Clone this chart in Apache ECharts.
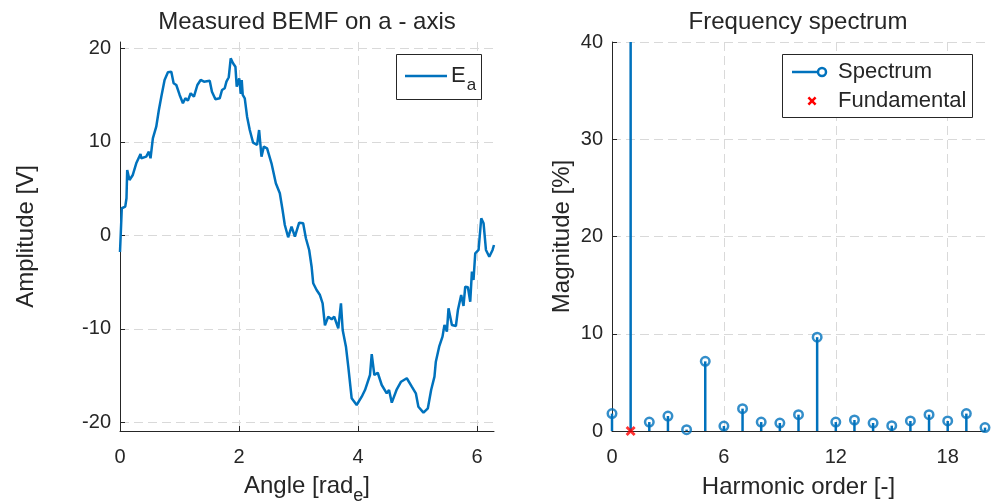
<!DOCTYPE html>
<html lang="en">
<head>
  <meta charset="UTF-8">
  <title>BEMF and spectrum</title>
  <script src="https://cdn.jsdelivr.net/npm/echarts@6.0.0/dist/echarts.min.js"></script>
  <style>
    html, body { margin: 0; background: #fff; }
    #chart { width: 991px; height: 504px; }
  </style>
</head>
<body>
  <div id="chart"></div>
  <script>
    // measured BEMF, a-axis
    const angle = [0.000, 0.020, 0.030, 0.088, 0.109, 0.121, 0.160, 0.215, 0.273, 0.345, 0.357, 0.441, 0.485, 0.513,
      0.552, 0.609, 0.653, 0.694, 0.749, 0.805, 0.862, 0.901, 0.946, 1.002, 1.057, 1.098, 1.141, 1.187, 1.242,
      1.300, 1.355, 1.411, 1.507, 1.545, 1.603, 1.675, 1.714, 1.759, 1.788, 1.827, 1.860, 1.899, 1.939, 1.961,
      2.003, 2.029, 2.045, 2.062, 2.096, 2.135, 2.180, 2.236, 2.303, 2.337, 2.377, 2.416, 2.471, 2.545, 2.618,
      2.685, 2.731, 2.769, 2.825, 2.882, 2.938, 3.010, 3.077, 3.123, 3.178, 3.219, 3.246, 3.303, 3.359, 3.404,
      3.443, 3.498, 3.556, 3.599, 3.667, 3.712, 3.741, 3.796, 3.835, 3.892, 3.976, 4.061, 4.116, 4.200, 4.229,
      4.273, 4.330, 4.397, 4.481, 4.520, 4.566, 4.650, 4.722, 4.818, 4.902, 4.970, 5.013, 5.098, 5.172, 5.227,
      5.283, 5.306, 5.362, 5.418, 5.451, 5.492, 5.519, 5.576, 5.643, 5.677, 5.732, 5.771, 5.800, 5.845, 5.884,
      5.912, 5.939, 5.968, 6.024, 6.069, 6.108, 6.148, 6.204, 6.259, 6.283]
    const bemf = [-1.79, 1.28, 2.89, 3.06, 3.96, 6.98, 5.91, 6.45, 7.70, 8.70, 8.24, 8.41, 8.94, 8.24,
      10.37, 11.61, 13.40, 14.82, 16.61, 17.43, 17.50, 16.26, 16.07, 15.01, 14.12, 14.65, 14.40, 15.19, 14.82,
      16.07, 16.61, 16.43, 16.53, 15.36, 14.55, 14.65, 15.54, 15.72, 16.43, 16.90, 18.93, 18.40, 18.03, 15.89,
      16.77, 15.11, 16.61, 15.01, 14.65, 12.68, 11.26, 9.90, 9.66, 11.26, 8.41, 9.48, 9.30, 7.70, 5.56,
      4.49, 2.71, 1.10, -0.21, 0.92, -0.15, 1.35, 1.28, -0.32, -1.57, -3.36, -5.13, -5.85, -6.39, -7.27,
      -9.63, -8.71, -8.98, -8.71, -9.95, -7.27, -10.13, -11.91, -14.05, -17.43, -18.15, -17.26, -16.55, -14.94, -12.70,
      -14.94, -14.70, -16.01, -16.90, -16.55, -17.90, -16.47, -15.66, -15.29, -16.19, -16.90, -18.33, -18.97, -18.50, -16.55,
      -15.12, -13.52, -11.91, -10.84, -9.59, -10.31, -7.81, -9.59, -9.70, -7.99, -6.39, -7.56, -5.50, -5.56, -7.10,
      -3.89, -4.78, -1.93, -1.57, 1.82, 1.28, -1.57, -2.29, -1.57, -1.04]

    // spectrum, % of fundamental
    const harmonics = [0, 1, 2, 3, 4, 5, 6, 7, 8, 9, 10, 11, 12, 13, 14, 15, 16, 17, 18, 19, 20]
    const magnitude = [1.79, 100, 0.92, 1.54, 0.14, 7.16, 0.51, 2.30, 0.92, 0.82, 1.68, 9.65, 0.92, 1.13, 0.82, 0.55,
      1.03, 1.68, 1.03, 1.79, 0.35]
    const fundOrder = [1]
    const fundValue = [0]

    const angleTicks = [0, 2, 4, 6]
    const ampTicks = [-20, -10, 0, 10, 20]
    const orderTicks = [0, 6, 12, 18]

    const blue = '#0072BD'
    const ink = '#262626'
    const font = 'Liberation Sans'
    // "x" marker outline, 10x10 box
    const crossPts = [[0, 2], [2, 0], [5, 3], [8, 0], [10, 2], [7, 5], [10, 8], [8, 10], [5, 7], [2, 10], [0, 8], [3, 5]]
    const cross = 'path://M' + crossPts.map(p => p.join(',')).join('L') + 'Z'

    const axisBase = {
      nameLocation: 'middle',
      nameTextStyle: { color: ink, fontSize: 24, fontFamily: font },
      axisLine: { show: true, onZero: false, lineStyle: { color: ink, width: 1 } },
      axisTick: { show: true, inside: true, length: 5, lineStyle: { color: ink } },
      axisLabel: { color: ink, fontSize: 20, fontFamily: font, margin: 9 },
      splitLine: { show: true, lineStyle: { color: '#d9d9d9', type: [9, 5], width: 1 } }
    }
    const ax = (extra) => Object.assign({}, axisBase, extra)
    const xLabel = Object.assign({}, axisBase.axisLabel, { margin: 16 })

    const chart = echarts.init(document.getElementById('chart'))

    chart.setOption({
      animation: false,
      backgroundColor: '#fff',
      title: [
        { text: 'Measured BEMF on a - axis', left: 307, top: 10, padding: 0, textAlign: 'center',
          textStyle: { color: ink, fontSize: 24, fontWeight: 'normal', fontFamily: font } },
        { text: 'Frequency spectrum', left: 798, top: 10, padding: 0, textAlign: 'center',
          textStyle: { color: ink, fontSize: 24, fontWeight: 'normal', fontFamily: font } }
      ],
      grid: [
        { left: 120, top: 42, width: 374, height: 389, outerBoundsMode: 'none', containLabel: false },
        { left: 612, top: 42, width: 373, height: 389, outerBoundsMode: 'none', containLabel: false }
      ],
      xAxis: [
        ax({
          type: 'value', gridIndex: 0, min: 0, max: 6.2832,
          name: 'Angle [rad{s|e}]', nameGap: 37,
          nameTextStyle: { color: ink, fontSize: 24, fontFamily: font,
            rich: { s: { fontSize: 18, fontFamily: font, color: ink, padding: [19, 0, 0, 0] } } },
          axisTick: { show: true, inside: true, length: 5, lineStyle: { color: ink }, customValues: angleTicks },
          axisLabel: Object.assign({}, xLabel, { customValues: angleTicks })
        }),
        ax({
          type: 'value', gridIndex: 1, min: 0, max: 20,
          name: 'Harmonic order [-]', nameGap: 44,
          axisTick: { show: true, inside: true, length: 5, lineStyle: { color: ink }, customValues: orderTicks },
          axisLabel: Object.assign({}, xLabel, { customValues: orderTicks })
        })
      ],
      yAxis: [
        ax({
          type: 'value', gridIndex: 0, min: -20.93, max: 20.67,
          name: 'Amplitude [V]', nameGap: 82,
          axisTick: { show: true, inside: true, length: 5, lineStyle: { color: ink }, customValues: ampTicks },
          axisLabel: Object.assign({}, axisBase.axisLabel, { customValues: ampTicks })
        }),
        ax({
          type: 'value', gridIndex: 1, min: 0, max: 40, interval: 10,
          name: 'Magnitude [%]', nameGap: 38
        })
      ],
      graphic: [
        { type: 'rect', shape: { x: 396.5, y: 54.5, width: 85, height: 45 },
          style: { fill: '#fff', stroke: ink, lineWidth: 1 }, z: 10 },
        { type: 'line', shape: { x1: 405, y1: 76, x2: 447, y2: 76 },
          style: { stroke: blue, lineWidth: 2.5 }, z: 11 },
        { type: 'text', x: 451, y: 76, z: 11,
          style: { text: '{m|E}{s|a}', verticalAlign: 'middle',
            rich: { m: { fontSize: 22, fontFamily: font, fill: ink },
              s: { fontSize: 17, fontFamily: font, fill: ink, padding: [18, 0, 0, 1] } } } },

        { type: 'rect', shape: { x: 782.5, y: 54.5, width: 190, height: 63 },
          style: { fill: '#fff', stroke: ink, lineWidth: 1 }, z: 10 },
        { type: 'line', shape: { x1: 792, y1: 72, x2: 817, y2: 72 },
          style: { stroke: blue, lineWidth: 2.5 }, z: 11 },
        { type: 'circle', shape: { cx: 822, cy: 72, r: 4 },
          style: { fill: 'none', stroke: blue, lineWidth: 2.5 }, z: 11 },
        { type: 'text', x: 838, y: 72, z: 11,
          style: { text: 'Spectrum', fontSize: 22, fontFamily: font, fill: ink, verticalAlign: 'middle' } },
        { type: 'polygon', z: 11, x: 807.5, y: 96.5, scaleX: 0.9, scaleY: 0.9,
          shape: { points: crossPts }, style: { fill: '#ff0000' } },
        { type: 'text', x: 838, y: 101, z: 11,
          style: { text: 'Fundamental', fontSize: 22, fontFamily: font, fill: ink, verticalAlign: 'middle' } }
      ],
      series: [
        {
          type: 'line', xAxisIndex: 0, yAxisIndex: 0,
          data: angle.map((a, i) => [a, bemf[i]]),
          showSymbol: false, symbol: 'none',
          lineStyle: { color: blue, width: 2.5 }
        },
        {
          type: 'bar', xAxisIndex: 1, yAxisIndex: 1,
          data: harmonics.map((h, i) => [h, magnitude[i]]),
          barWidth: 2.5, itemStyle: { color: blue }
        },
        {
          type: 'scatter', xAxisIndex: 1, yAxisIndex: 1, clip: false, z: 3,
          data: harmonics.map((h, i) => [h, magnitude[i]]),
          symbol: 'circle', symbolSize: 8.5,
          itemStyle: { color: 'rgba(255,255,255,0)', borderColor: blue, borderWidth: 2.5 }
        },
        {
          type: 'scatter', xAxisIndex: 1, yAxisIndex: 1, clip: false, z: 4,
          data: fundOrder.map((h, i) => [h, fundValue[i]]),
          symbol: cross, symbolSize: 10,
          itemStyle: { color: '#ff0000' }
        }
      ]
    })
  </script>
</body>
</html>
